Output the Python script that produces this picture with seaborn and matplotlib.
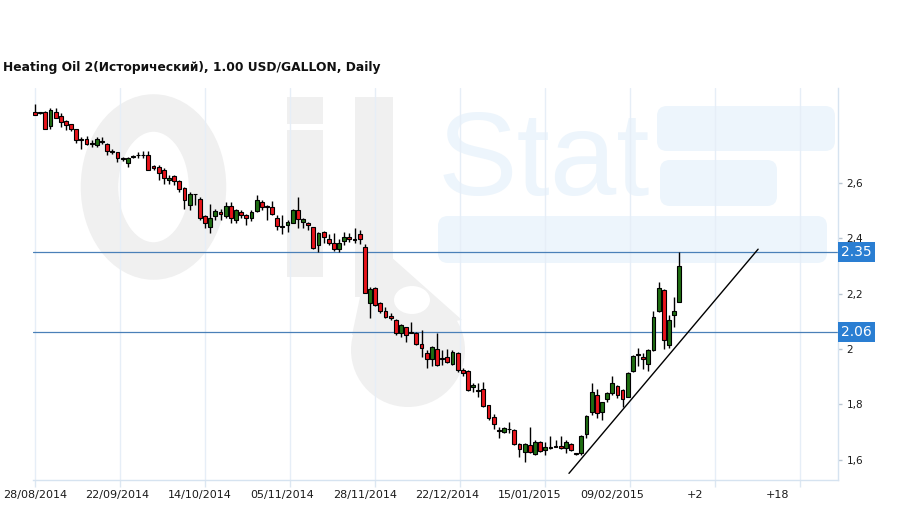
import numpy as np
import pandas as pd
import matplotlib
matplotlib.use("Agg")
import matplotlib.pyplot as plt
import matplotlib.transforms as mtransforms
from matplotlib.patches import Ellipse, FancyBboxPatch, Rectangle, Circle, Polygon
import seaborn as sns

title = "Heating Oil 2(Исторический), 1.00 USD/GALLON, Daily"
date_labels = ["28/08/2014", "22/09/2014", "14/10/2014", "05/11/2014", "28/11/2014",
               "22/12/2014", "15/01/2015", "09/02/2015", "+2", "+18"]

# daily OHLC
opens = [2.858, 2.852, 2.858, 2.806, 2.858, 2.844, 2.823, 2.812, 2.794, 2.759,
         2.758, 2.743, 2.737, 2.750, 2.743, 2.717, 2.711, 2.690, 2.674, 2.694,
         2.700, 2.700, 2.701, 2.661, 2.659, 2.649, 2.613, 2.625, 2.607, 2.584,
         2.520, 2.560, 2.544, 2.480, 2.442, 2.481, 2.496, 2.481, 2.516, 2.468,
         2.494, 2.484, 2.472, 2.500, 2.532, 2.515, 2.512, 2.472, 2.443, 2.448,
         2.457, 2.503, 2.460, 2.457, 2.440, 2.376, 2.422, 2.396, 2.382, 2.360,
         2.392, 2.406, 2.397, 2.416, 2.370, 2.165, 2.219, 2.165, 2.137, 2.119,
         2.105, 2.056, 2.078, 2.061, 2.056, 2.018, 1.987, 1.962, 1.999, 1.966,
         1.972, 1.946, 1.987, 1.924, 1.921, 1.861, 1.850, 1.854, 1.797, 1.753,
         1.705, 1.698, 1.710, 1.707, 1.656, 1.626, 1.653, 1.619, 1.665, 1.635,
         1.643, 1.647, 1.649, 1.641, 1.656, 1.621, 1.622, 1.691, 1.771, 1.833,
         1.773, 1.818, 1.839, 1.866, 1.852, 1.827, 1.920, 1.978, 1.970, 1.944,
         1.996, 2.137, 2.213, 2.014, 2.122, 2.171]
highs = [2.885, 2.857, 2.861, 2.870, 2.873, 2.852, 2.830, 2.815, 2.797, 2.765,
         2.771, 2.755, 2.765, 2.765, 2.745, 2.725, 2.713, 2.695, 2.695, 2.703,
         2.711, 2.715, 2.717, 2.665, 2.665, 2.653, 2.629, 2.629, 2.611, 2.586,
         2.568, 2.562, 2.550, 2.484, 2.524, 2.508, 2.508, 2.532, 2.532, 2.508,
         2.502, 2.490, 2.502, 2.556, 2.538, 2.520, 2.536, 2.484, 2.484, 2.466,
         2.508, 2.548, 2.472, 2.460, 2.442, 2.424, 2.428, 2.416, 2.418, 2.396,
         2.424, 2.421, 2.436, 2.432, 2.380, 2.223, 2.223, 2.171, 2.150, 2.129,
         2.107, 2.090, 2.081, 2.099, 2.060, 2.069, 1.996, 2.011, 2.056, 1.996,
         1.999, 1.996, 1.990, 1.930, 1.924, 1.876, 1.878, 1.882, 1.799, 1.765,
         1.719, 1.719, 1.737, 1.709, 1.659, 1.661, 1.719, 1.671, 1.668, 1.665,
         1.685, 1.671, 1.685, 1.671, 1.659, 1.625, 1.689, 1.761, 1.876, 1.854,
         1.809, 1.845, 1.902, 1.870, 1.854, 1.917, 1.978, 2.002, 1.984, 1.999,
         2.138, 2.243, 2.216, 2.123, 2.189, 2.352]
lows = [2.846, 2.849, 2.795, 2.797, 2.834, 2.803, 2.791, 2.789, 2.746, 2.725,
        2.737, 2.729, 2.729, 2.743, 2.703, 2.707, 2.677, 2.679, 2.659, 2.689,
        2.692, 2.689, 2.647, 2.649, 2.611, 2.596, 2.596, 2.592, 2.568, 2.508,
        2.504, 2.520, 2.466, 2.436, 2.420, 2.466, 2.466, 2.472, 2.456, 2.454,
        2.472, 2.448, 2.463, 2.496, 2.504, 2.468, 2.484, 2.430, 2.415, 2.424,
        2.454, 2.436, 2.436, 2.430, 2.361, 2.352, 2.382, 2.376, 2.355, 2.352,
        2.376, 2.388, 2.382, 2.380, 2.201, 2.111, 2.155, 2.129, 2.111, 2.105,
        2.050, 2.045, 2.026, 2.056, 2.014, 1.972, 1.930, 1.938, 1.938, 1.942,
        1.948, 1.942, 1.918, 1.902, 1.849, 1.845, 1.827, 1.791, 1.743, 1.709,
        1.677, 1.695, 1.695, 1.653, 1.610, 1.592, 1.622, 1.616, 1.628, 1.616,
        1.639, 1.644, 1.637, 1.625, 1.632, 1.617, 1.616, 1.677, 1.761, 1.749,
        1.743, 1.809, 1.833, 1.821, 1.791, 1.825, 1.918, 1.938, 1.926, 1.921,
        1.994, 2.135, 1.999, 2.002, 2.078, 2.169]
closes = [2.848, 2.856, 2.797, 2.866, 2.837, 2.820, 2.809, 2.794, 2.755, 2.756,
          2.741, 2.742, 2.758, 2.748, 2.715, 2.713, 2.689, 2.688, 2.689, 2.696,
          2.702, 2.702, 2.649, 2.656, 2.638, 2.617, 2.620, 2.608, 2.577, 2.538,
          2.562, 2.559, 2.472, 2.457, 2.472, 2.498, 2.488, 2.516, 2.475, 2.502,
          2.484, 2.475, 2.494, 2.538, 2.512, 2.513, 2.490, 2.444, 2.441, 2.460,
          2.502, 2.469, 2.470, 2.448, 2.364, 2.418, 2.404, 2.382, 2.360, 2.382,
          2.406, 2.396, 2.395, 2.396, 2.204, 2.216, 2.159, 2.137, 2.117, 2.111,
          2.056, 2.087, 2.050, 2.059, 2.018, 2.002, 1.962, 2.008, 1.942, 1.964,
          1.952, 1.990, 1.924, 1.912, 1.852, 1.870, 1.849, 1.794, 1.751, 1.729,
          1.704, 1.713, 1.709, 1.655, 1.638, 1.658, 1.626, 1.665, 1.632, 1.647,
          1.642, 1.646, 1.641, 1.665, 1.635, 1.620, 1.686, 1.759, 1.845, 1.767,
          1.807, 1.839, 1.876, 1.833, 1.818, 1.914, 1.974, 1.977, 1.963, 1.996,
          2.114, 2.219, 2.032, 2.105, 2.137, 2.300]

levels = [2.35, 2.06]
level_labels = ["2.35", "2.06"]
trend_x = [103.6, 140.3]
trend_y = [1.550, 2.361]
y_ticks = [1.6, 1.8, 2.0, 2.2, 2.4, 2.6]
y_tick_labels = ["1,6", "1,8", "2", "2,2", "2,4", "2,6"]

sns.set_theme(style="white")
plt.rcParams["font.family"] = ["DejaVu Sans"]

df = pd.DataFrame({"open": opens, "high": highs, "low": lows, "close": closes})
df["idx"] = np.arange(len(df))
df["up"] = df["close"] >= df["open"]
df["body_lo"] = df[["open", "close"]].min(axis=1)
df["body_h"] = (df["close"] - df["open"]).abs().clip(lower=0.003)

fig = plt.figure(figsize=(9.09, 5.09), dpi=100)
fig.patch.set_facecolor("white")

# faint watermark logo drawn in pixel space behind the chart
bg = fig.add_axes([0, 0, 1, 1], zorder=-1)
bg.set_xlim(0, 909)
bg.set_ylim(509, 0)
bg.axis("off")
grey = "#f0f0f0"
pale = "#edf5fc"
bg.add_patch(Ellipse((153.5, 187), 108, 148, fill=False, ec=grey, lw=27))
bg.add_patch(Rectangle((287, 97), 36, 27, fc=grey, ec="none"))
bg.add_patch(Rectangle((287, 130), 36, 147, fc=grey, ec="none"))
bg.add_patch(Rectangle((355, 97), 38, 200, fc=grey, ec="none"))
bg.add_patch(Polygon([(352, 335), (372, 240), (462, 320)], fc=grey, ec="none"))
bg.add_patch(Circle((408, 350), 57, fc=grey, ec="none"))
bg.add_patch(Ellipse((412, 300), 36, 28, fc="white", ec="none"))
bg.text(438, 195, "Stat", fontsize=86, color=pale, family="Liberation Sans",
        ha="left", va="baseline")
for (x0, y0, w, h) in [(657, 106, 178, 45), (660, 160, 117, 46), (438, 216, 389, 47)]:
    bg.add_patch(FancyBboxPatch((x0 + 10, y0 + 10), w - 20, h - 20,
                                boxstyle="round,pad=10", fc=pale, ec="none"))

ax = fig.add_axes([33 / 909, 1 - 480 / 509, (838 - 33) / 909, (480 - 88) / 509])
ax.set_facecolor("none")

ax.vlines(df["idx"], df["low"], df["high"], color="black", lw=1.0, zorder=3)
ax.bar(df["idx"], df["body_h"], bottom=df["body_lo"], width=0.74,
       color=np.where(df["up"], "#1f6e12", "#e8141b"),
       edgecolor="black", linewidth=0.8, zorder=4)

for lvl in levels:
    ax.axhline(lvl, color="#4a80b8", lw=0.9, zorder=2)

sns.lineplot(x=trend_x, y=trend_y, ax=ax, color="black", lw=1.0, zorder=5)

ax.set_xlim(-0.39, 155.8)
ax.set_ylim(1.526, 2.944)

# gridlines / tick marks every 16.5 bars, labels every 16 bars
ax.xaxis.remove_overlapping_locs = False
ax.set_xticks([16.5 * k for k in range(10)])
ax.set_xticklabels([])
ax.set_xticks([16 * k for k in range(len(date_labels))], minor=True)
ax.set_xticklabels(date_labels, minor=True)
ax.tick_params(axis="x", which="major", length=5, color="#dce7f2", width=1,
               direction="out", bottom=True)
ax.tick_params(axis="x", which="minor", length=0, pad=7, labelsize=8,
               labelcolor="#1a1a1a", bottom=True)
ax.grid(axis="x", which="major", color="#e6eef7", lw=1)
ax.grid(axis="y", visible=False)

ax.yaxis.tick_right()
ax.set_yticks(y_ticks)
ax.set_yticklabels(y_tick_labels)
ax.tick_params(axis="y", length=3, color="#b8c4d0", width=1, direction="out",
               pad=3, labelsize=7.5, labelcolor="#1a1a1a", right=True)

for side in ["left", "top"]:
    ax.spines[side].set_visible(False)
for side in ["right", "bottom"]:
    ax.spines[side].set_color("#d6e3f0")
    ax.spines[side].set_linewidth(1)

blend = mtransforms.blended_transform_factory(ax.transAxes, ax.transData)
for lvl, lab in zip(levels, level_labels):
    ax.text(1.004, lvl, lab, transform=blend, ha="left", va="center",
            color="white", fontsize=10, zorder=6, clip_on=False,
            bbox=dict(boxstyle="square,pad=0.22", fc="#2a7ed2", ec="none"))

fig.text(3 / 909, 1 - 68 / 509, title, fontsize=8.8, fontweight="bold",
         ha="left", va="center", color="#111111")

fig.savefig("out.png", dpi=100)
